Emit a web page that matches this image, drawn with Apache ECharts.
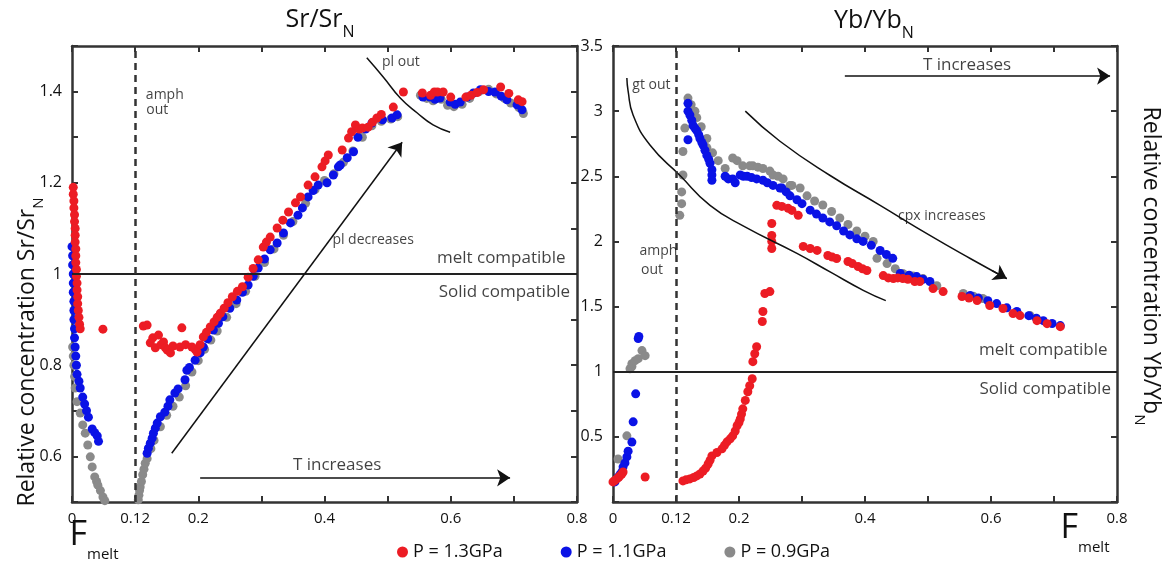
<!DOCTYPE html>
<html><head><meta charset="utf-8">
<script src="https://cdn.jsdelivr.net/npm/echarts@6/dist/echarts.min.js"></script>
<style>html,body{margin:0;padding:0;background:#fff}#c{width:1173px;height:564px}</style>
</head><body><div id="c"></div>
<script>
// ---------- data ----------
const seriesNames = ['P = 1.3GPa', 'P = 1.1GPa', 'P = 0.9GPa'];
const xTickLabels = ['0', '0.12', '0.2', '', '0.4', '', '0.6', '', '0.8'];
const srTickLabels = ['', '0.6', '', '0.8', '', '1', '', '1.2', '', '1.4', ''];
const ybTickLabels = ['', '0.5', '1', '1.5', '2', '2.5', '3', '3.5'];

const srRed = [[0.002,1.19],[0.002,1.175],[0.003,1.16],[0.003,1.145],[0.004,1.13],[0.004,1.115],[0.005,1.10],[0.005,1.085],[0.005,1.07],[0.006,1.055],[0.006,1.04],[0.006,1.025],[0.007,1.01],[0.007,0.995],[0.008,0.98],[0.008,0.965],[0.009,0.95],[0.009,0.935],[0.010,0.92],[0.011,0.905],[0.012,0.89],[0.013,0.88],
[0.049,0.879],
[0.113,0.886],[0.119,0.888],[0.124,0.849],[0.128,0.86],[0.132,0.838],[0.137,0.866],[0.141,0.845],[0.145,0.851],[0.148,0.838],[0.151,0.833],[0.156,0.827],[0.160,0.842],[0.171,0.84],[0.174,0.882],[0.180,0.845],[0.19,0.84],[0.195,0.835],[0.198,0.829],
[0.203,0.845],[0.208,0.862],[0.213,0.872],[0.219,0.884],[0.225,0.895],[0.230,0.905],[0.235,0.914],[0.241,0.925],[0.247,0.937],[0.254,0.950],[0.262,0.962],[0.27,0.972],[0.279,0.993],[0.287,1.012],[0.295,1.031],[0.303,1.059],[0.308,1.07],[0.314,1.081],[0.325,1.101],[0.334,1.118],[0.343,1.136],[0.354,1.156],[0.362,1.169],[0.374,1.195],[0.385,1.213],[0.396,1.235],[0.401,1.248],[0.406,1.261],[0.428,1.272],[0.438,1.298],[0.443,1.312],[0.449,1.327],[0.455,1.318],[0.46,1.32],[0.469,1.322],[0.476,1.333],[0.483,1.342],[0.490,1.35],[0.509,1.366],[0.525,1.399],
[0.555,1.397],[0.568,1.392],[0.574,1.399],[0.579,1.399],[0.588,1.399],[0.6,1.388],[0.624,1.388],[0.632,1.392],[0.642,1.398],[0.652,1.404],[0.679,1.41],[0.692,1.396],[0.707,1.382],[0.713,1.378]];

const srBlue = [[0.000,1.06],[0.001,1.04],[0.001,1.02],[0.002,1.0],[0.002,0.98],[0.002,0.96],[0.003,0.94],[0.003,0.92],[0.003,0.90],[0.004,0.88],[0.004,0.86],[0.005,0.84],[0.006,0.82],[0.007,0.80],[0.008,0.78],[0.011,0.765],[0.013,0.75],[0.017,0.73],[0.02,0.715],[0.023,0.70],[0.026,0.686],[0.032,0.66],[0.036,0.652],[0.04,0.645],[0.042,0.633],
[0.119,0.607],[0.121,0.618],[0.124,0.629],[0.127,0.640],[0.129,0.651],[0.132,0.662],[0.135,0.673],[0.14,0.687],[0.147,0.697],[0.152,0.71],[0.155,0.724],[0.163,0.739],[0.168,0.748],[0.179,0.768],[0.182,0.789],[0.186,0.795],[0.195,0.811],[0.203,0.827],[0.208,0.84],[0.215,0.858],[0.224,0.877],[0.232,0.892],[0.239,0.906],[0.25,0.925],[0.261,0.943],[0.27,0.96],[0.279,0.976],[0.287,0.995],[0.295,1.013],[0.305,1.033],[0.314,1.053],[0.325,1.068],[0.335,1.09],[0.346,1.112],[0.358,1.129],[0.365,1.145],[0.374,1.169],[0.382,1.183],[0.39,1.195],[0.404,1.2],[0.414,1.217],[0.422,1.235],[0.425,1.239],[0.436,1.255],[0.446,1.268],[0.453,1.3],[0.465,1.318],[0.475,1.331],[0.492,1.338],[0.507,1.342],[0.515,1.349],
[0.556,1.388],[0.567,1.388],[0.575,1.383],[0.583,1.386],[0.599,1.377],[0.607,1.372],[0.615,1.377],[0.626,1.388],[0.636,1.397],[0.647,1.404],[0.66,1.40],[0.67,1.399],[0.68,1.39],[0.689,1.382],[0.705,1.371],[0.713,1.36]];

const srGray = [[0.001,0.84],[0.002,0.82],[0.003,0.80],[0.004,0.775],[0.005,0.75],[0.008,0.72],[0.013,0.695],[0.017,0.669],[0.021,0.651],[0.025,0.625],[0.029,0.599],[0.032,0.577],[0.036,0.555],[0.039,0.545],[0.041,0.537],[0.045,0.525],[0.049,0.511],[0.052,0.503],
[0.105,0.505],[0.106,0.515],[0.107,0.525],[0.108,0.533],[0.110,0.545],[0.112,0.56],[0.114,0.572],[0.116,0.585],[0.119,0.595],[0.125,0.617],[0.13,0.635],[0.14,0.665],[0.15,0.69],[0.16,0.71],[0.17,0.73],[0.18,0.755],[0.19,0.785],[0.2,0.81],[0.21,0.835],[0.22,0.855],[0.23,0.875],[0.245,0.905],[0.26,0.935],[0.275,0.962],[0.29,0.995],[0.305,1.025],[0.32,1.055],[0.335,1.085],[0.35,1.115],[0.37,1.155],[0.385,1.185],[0.4,1.205],[0.415,1.22],[0.43,1.245],[0.445,1.27],[0.46,1.3],[0.475,1.325],[0.49,1.335],[0.505,1.34],[0.516,1.345],
[0.552,1.392],[0.562,1.385],[0.572,1.38],[0.585,1.383],[0.595,1.37],[0.605,1.367],[0.618,1.372],[0.63,1.385],[0.645,1.4],[0.66,1.405],[0.672,1.395],[0.685,1.385],[0.695,1.375],[0.708,1.365],[0.715,1.352]];

const ybRed = [[0.0,0.154],[0.003,0.165],[0.006,0.177],[0.009,0.19],[0.011,0.2],[0.014,0.215],[0.016,0.23],
[0.051,0.192],
[0.111,0.162],[0.116,0.17],[0.122,0.177],[0.128,0.188],[0.133,0.2],[0.138,0.215],[0.143,0.238],[0.147,0.26],[0.151,0.292],[0.154,0.32],[0.157,0.354],[0.165,0.38],[0.173,0.408],[0.177,0.435],[0.181,0.462],[0.186,0.485],[0.19,0.508],[0.194,0.545],[0.197,0.585],[0.2,0.61],[0.202,0.638],[0.204,0.675],[0.206,0.715],[0.21,0.78],[0.214,0.846],[0.217,0.892],[0.221,0.946],[0.222,1.077],[0.225,1.138],[0.228,1.192],[0.237,1.385],[0.238,1.462],[0.241,1.6],[0.249,1.615],
[0.252,1.946],[0.252,2.0],[0.252,2.046],[0.252,2.138],[0.26,2.277],[0.268,2.269],[0.278,2.254],[0.284,2.238],[0.294,2.2],
[0.302,1.962],[0.313,1.946],[0.324,1.931],[0.341,1.892],[0.348,1.88],[0.355,1.869],[0.373,1.846],[0.38,1.83],[0.389,1.808],[0.396,1.79],[0.403,1.777],[0.429,1.738],[0.437,1.72],[0.445,1.715],[0.452,1.72],[0.46,1.715],[0.468,1.71],[0.479,1.692],[0.487,1.692],[0.508,1.638],[0.524,1.615],[0.554,1.577],[0.565,1.565],[0.578,1.546],[0.598,1.508],[0.619,1.485],[0.635,1.446],[0.646,1.431],[0.673,1.392],[0.689,1.369],[0.71,1.346]];

const ybBlue = [[0.003,0.154],[0.008,0.19],[0.011,0.21],[0.014,0.23],[0.016,0.27],[0.019,0.3],[0.022,0.346],[0.024,0.39],[0.03,0.46],[0.032,0.615],[0.036,0.83],[0.04,1.254],[0.041,1.27],
[0.119,3.06],[0.119,3.0],[0.119,2.78],[0.122,2.97],[0.125,2.93],[0.127,2.89],[0.13,2.87],[0.133,2.85],[0.136,2.82],[0.138,2.79],[0.141,2.76],[0.143,2.74],[0.146,2.70],[0.149,2.66],[0.152,2.63],[0.154,2.6],[0.157,2.55],[0.157,2.51],[0.157,2.47],[0.178,2.5],[0.183,2.48],[0.19,2.48],[0.194,2.45],[0.202,2.51],[0.207,2.5],[0.213,2.5],[0.22,2.49],[0.228,2.48],[0.238,2.47],[0.245,2.45],[0.254,2.43],[0.265,2.41],[0.268,2.41],[0.275,2.38],[0.281,2.35],[0.292,2.32],[0.3,2.29],[0.313,2.24],[0.323,2.21],[0.333,2.18],[0.344,2.15],[0.355,2.12],[0.366,2.08],[0.376,2.05],[0.387,2.02],[0.397,2.0],[0.41,1.97],[0.424,1.93],[0.434,1.9],[0.444,1.87],[0.456,1.754],[0.47,1.74],[0.482,1.73],[0.492,1.71],[0.503,1.692],[0.567,1.585],[0.58,1.565],[0.595,1.545],[0.609,1.523],[0.625,1.49],[0.641,1.462],[0.66,1.43],[0.672,1.41],[0.683,1.392],[0.697,1.37],[0.71,1.354]];

const ybGray = [[0.008,0.33],[0.022,0.508],[0.027,1.023],[0.03,1.04],[0.03,1.062],[0.035,1.085],[0.04,1.1],[0.046,1.162],[0.051,1.123],
[0.106,2.2],[0.109,2.29],[0.109,2.38],[0.111,2.51],[0.111,2.69],[0.114,2.87],[0.119,3.1],[0.124,3.05],[0.13,3.0],[0.133,2.95],[0.14,2.88],[0.149,2.79],[0.149,2.72],[0.158,2.68],[0.167,2.62],[0.178,2.56],[0.19,2.64],[0.197,2.62],[0.206,2.58],[0.217,2.58],[0.222,2.58],[0.23,2.57],[0.238,2.56],[0.249,2.54],[0.254,2.51],[0.262,2.5],[0.27,2.48],[0.281,2.43],[0.284,2.43],[0.297,2.41],[0.308,2.35],[0.32,2.31],[0.333,2.28],[0.347,2.23],[0.36,2.18],[0.373,2.13],[0.387,2.08],[0.4,2.04],[0.413,2.0],[0.419,1.87],[0.435,1.83],[0.448,1.79],[0.46,1.754],[0.476,1.735],[0.492,1.715],[0.514,1.66],[0.556,1.6],[0.572,1.58],[0.587,1.562],[0.662,1.431]];

// annotations (data coordinates)
const refLineY = 1;
const amphOutX = 0.105;
const srNotesBig = [[0.68,1.035,'melt compatible'],[0.685,0.961,'Solid compatible'],[0.42,0.581,'T increases']];
const srNotesSmall = [[0.147,1.393,'amph'],[0.135,1.36,'out'],[0.477,1.075,'pl decreases'],[0.521,1.465,'pl out']];
const srArrows = [[[0.158,0.607],[0.523,1.289]],[[0.203,0.553],[0.694,0.553]]];
const srPlOut = [[0.467,1.474],[0.493,1.432],[0.520,1.386],[0.547,1.353],[0.572,1.327],[0.599,1.311]];

const ybNotesBig = [[0.683,1.162,'melt compatible'],[0.686,0.869,'Solid compatible'],[0.562,3.354,'T increases']];
const ybNotesSmall = [[0.072,1.923,'amph'],[0.062,1.777,'out'],[0.061,3.2,'gt out'],[0.522,2.192,'cpx increases']];
const ybArrows = [[[0.368,3.269],[0.789,3.269]]];
const ybGtOut = [[0.022,3.254],[0.024,3.154],[0.032,2.969],[0.059,2.738],[0.106,2.508],[0.154,2.277],[0.208,2.115],[0.292,1.908],[0.346,1.762],[0.398,1.623],[0.433,1.546]];
const ybCpx = [[0.21,3.0],[0.265,2.769],[0.344,2.508],[0.424,2.277],[0.503,2.046],[0.567,1.869],[0.625,1.715]];

// ---------- chart ----------
const FONT = 'Open Sans';
const AX = '#333';
const COLORS = ['#ec1c24', '#0a12e6', '#8a8a8a'];

function idx(v, base, step) { return Math.round((v - base) / step); }

function xAxisDef(grid, pos) {
  return {
    type: 'value', gridIndex: grid, position: pos, min: 0, max: 0.8, interval: 0.1,
    axisLine: { onZero: false, lineStyle: { color: AX, width: 2.5 } },
    axisTick: { inside: true, length: 6, lineStyle: { color: AX, width: 2 } },
    axisLabel: { show: pos === 'bottom', margin: 9, fontSize: 15, color: '#111', fontFamily: FONT,
      formatter: v => xTickLabels[idx(v, 0, 0.1)] || '' },
    splitLine: { show: false }
  };
}
function yAxisDef(grid, pos, min, max, step, labels) {
  return {
    type: 'value', gridIndex: grid, position: pos, min: min, max: max, interval: step,
    axisLine: { onZero: false, lineStyle: { color: AX, width: 2.5 } },
    axisTick: { inside: true, length: 6, lineStyle: { color: AX, width: 2 } },
    axisLabel: { show: pos === 'left', margin: 10, fontSize: 16, color: '#111', fontFamily: FONT,
      formatter: v => labels[idx(v, min, step)] || '' },
    splitLine: { show: false }
  };
}

function pointSeries(gi, data, k) {
  return { type: 'scatter', name: seriesNames[k], xAxisIndex: gi * 2, yAxisIndex: gi * 2,
    data: data, symbolSize: 9, itemStyle: { color: COLORS[k], opacity: 1 }, z: 3 };
}
function noteSeries(gi, data, size, markLine) {
  const s = { type: 'scatter', name: 'notes' + gi + size, xAxisIndex: gi * 2, yAxisIndex: gi * 2,
    data: data, symbolSize: 0, itemStyle: { color: 'transparent' }, silent: true, z: 5,
    label: { show: true, position: 'inside', formatter: p => p.value[2], fontSize: size, color: '#111', fontFamily: FONT } };
  if (markLine) s.markLine = markLine;
  return s;
}
function curveSeries(gi, data, arrowHead) {
  const s = { type: 'line', name: 'curve', xAxisIndex: gi * 2, yAxisIndex: gi * 2, data: data,
    smooth: true, symbol: 'none', silent: true, lineStyle: { color: '#111', width: 1.5 }, z: 4 };
  if (arrowHead) {
    const n = data.length;
    s.markLine = { silent: true, symbol: ['none', 'arrow'], symbolSize: 13, label: { show: false },
      lineStyle: { color: '#111', width: 1.5, type: 'solid' },
      data: [[{ coord: data[n - 2].map((v, i) => v + (data[n - 1][i] - v) * 0.6) }, { coord: data[n - 1] }]] };
  }
  return s;
}
function refLines(dashX) {
  return { silent: true, symbol: 'none', label: { show: false }, animation: false,
    lineStyle: { color: '#222', width: 2, type: 'solid' },
    data: [{ yAxis: refLineY }, { xAxis: dashX, lineStyle: { color: AX, width: 2.5, type: [7, 5] } }] };
}
function arrowLines(list) {
  return { silent: true, symbol: ['none', 'arrow'], symbolSize: 13, label: { show: false },
    lineStyle: { color: '#111', width: 1.5, type: 'solid' },
    data: list.map(a => [{ coord: a[0] }, { coord: a[1] }]) };
}

function richName(main, sub, size, subSize, drop) {
  return {
    text: '{a|' + main + '}{b|' + sub + '}',
    rich: { a: { fontSize: size, fontFamily: FONT, fill: '#111', verticalAlign: 'bottom', padding: [0, 0, drop, 0] },
            b: { fontSize: subSize, fontFamily: FONT, fill: '#111', verticalAlign: 'bottom' } },
    align: 'center', verticalAlign: 'middle'
  };
}

const option = {
  animation: false,
  backgroundColor: '#fff',
  grid: [
    { left: 72, top: 46, width: 505, height: 456 },
    { left: 613, top: 46, width: 504, height: 456 }
  ],
  xAxis: [xAxisDef(0, 'bottom'), xAxisDef(0, 'top'), xAxisDef(1, 'bottom'), xAxisDef(1, 'top')],
  yAxis: [yAxisDef(0, 'left', 0.5, 1.5, 0.1, srTickLabels), yAxisDef(0, 'right', 0.5, 1.5, 0.1, srTickLabels),
          yAxisDef(1, 'left', 0, 3.5, 0.5, ybTickLabels), yAxisDef(1, 'right', 0, 3.5, 0.5, ybTickLabels)],
  legend: {
    data: seriesNames, left: 392, top: 538, icon: 'circle', itemWidth: 11, itemHeight: 11, itemGap: 58,
    textStyle: { fontSize: 18, fontFamily: FONT, color: '#111' }, selectedMode: false
  },
  series: [
    pointSeries(0, srGray, 2), pointSeries(0, srBlue, 1), pointSeries(0, srRed, 0),
    pointSeries(1, ybGray, 2), pointSeries(1, ybBlue, 1), pointSeries(1, ybRed, 0),
    noteSeries(0, srNotesBig, 17, refLines(amphOutX)),
    noteSeries(0, srNotesSmall, 14, arrowLines(srArrows)),
    noteSeries(1, ybNotesBig, 17, refLines(amphOutX)),
    noteSeries(1, ybNotesSmall, 14, arrowLines(ybArrows)),
    curveSeries(0, srPlOut, false),
    curveSeries(1, ybGtOut, false),
    curveSeries(1, ybCpx, true)
  ],
  graphic: [
    { type: 'text', x: 320, y: 24, style: richName('Sr/Sr', 'N', 25, 16, 8) },
    { type: 'text', x: 874, y: 25, style: richName('Yb/Yb', 'N', 25, 16, 8) },
    { type: 'text', x: 31, y: 352, rotation: Math.PI / 2, style: richName('Relative concentration Sr/Sr', 'N', 23, 15, 8) },
    { type: 'text', x: 1147, y: 266, rotation: -Math.PI / 2, style: richName('Relative concentration Yb/Yb', 'N', 23, 15, 8) },
    { type: 'text', x: 94, y: 540, style: richName('F', 'melt', 34, 15, 10) },
    { type: 'text', x: 1085, y: 533, style: richName('F', 'melt', 34, 15, 10) }
  ]
};

const chart = echarts.init(document.getElementById('c'), null, { renderer: 'canvas' });
chart.setOption(option);
</script>
</body></html>
